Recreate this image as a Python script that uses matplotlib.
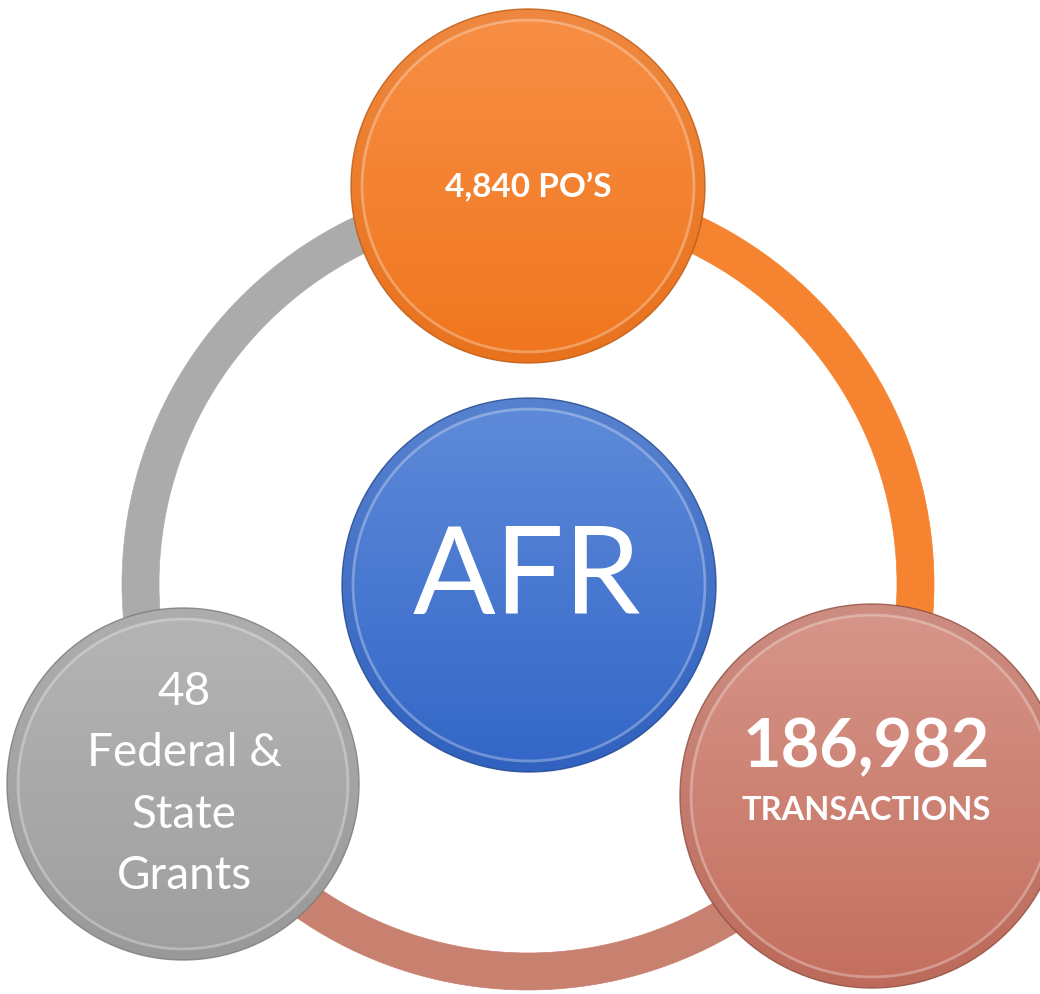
import numpy as np
import matplotlib.pyplot as plt
from matplotlib.patches import Circle, Wedge
from matplotlib.colors import LinearSegmentedColormap

# labels on the diagram
center_label = "AFR"
node_values = ["4,840 PO’S", "186,982", "48"]
node_units = ["", "TRANSACTIONS", "Federal &\nState\nGrants"]

W, H = 1040, 994
fig = plt.figure(figsize=(W / 100, H / 100), dpi=100)
ax = fig.add_axes([0, 0, 1, 1])
ax.axis('off')

# ring behind the satellites
ring_c = (528, 410)
ring_r = 406
ring_w = 37
ring_parts = [(-30, 90, '#F5832F'), (90, 210, '#ABABAB'), (210, 330, '#C8806F')]
for t1, t2, col in ring_parts:
    ax.add_patch(Wedge(ring_c, ring_r, t1, t2, width=ring_w, facecolor=col,
                       edgecolor=col, lw=0.5, zorder=1))


def disc(cx, cy, r, top, bottom, edge, z):
    grad = np.linspace(0, 1, 256).reshape(-1, 1)
    cmap = LinearSegmentedColormap.from_list('g', [bottom, top])
    im = ax.imshow(grad, extent=[cx - r, cx + r, cy - r, cy + r], origin='lower',
                   cmap=cmap, aspect='auto', zorder=z)
    im.set_clip_path(Circle((cx, cy), r, transform=ax.transData))
    # bevel: slightly darker outer band + light inner line
    ax.add_patch(Wedge((cx, cy), r, 0, 360, width=11, facecolor=edge,
                       alpha=0.12, lw=0, zorder=z + 0.1))
    ax.add_patch(Circle((cx, cy), r - 11, fill=False, edgecolor='white',
                        alpha=0.3, lw=2, zorder=z + 0.2))
    ax.add_patch(Circle((cx, cy), r, fill=False, edgecolor=edge, lw=1,
                        alpha=0.8, zorder=z + 0.3))


disc(528, 808, 177, '#F78F45', '#F0761E', '#B85A14', 3)
disc(872, 198, 192, '#D6968A', '#C46F5E', '#8E4E40', 3)
disc(183, 210, 176, '#B5B5B5', '#9E9E9E', '#7A7A7A', 3)
disc(529, 409, 187, '#5F8BD9', '#3366C7', '#23468C', 3)

fnt = 'Lato'
ax.text(528, 808, node_values[0], ha='center', va='center', color='white',
        fontsize=24, fontweight='bold', family=fnt, zorder=10)
ax.text(866, 246, node_values[1], ha='center', va='center', color='white',
        fontsize=48, fontweight='bold', family=fnt, zorder=10)
ax.text(866, 184, node_units[1], ha='center', va='center', color='white',
        fontsize=23.5, fontweight='bold', family=fnt, zorder=10)
ax.text(184, 210, node_values[2] + "\n" + node_units[2], ha='center', va='center',
        color='white', fontsize=33, family=fnt, linespacing=1.56, zorder=10)
ax.text(527, 414, center_label, ha='center', va='center', color='white',
        fontsize=88, family=fnt, zorder=10)

ax.set_xlim(0, W)
ax.set_ylim(0, H)
fig.savefig('out.png', dpi=100)
